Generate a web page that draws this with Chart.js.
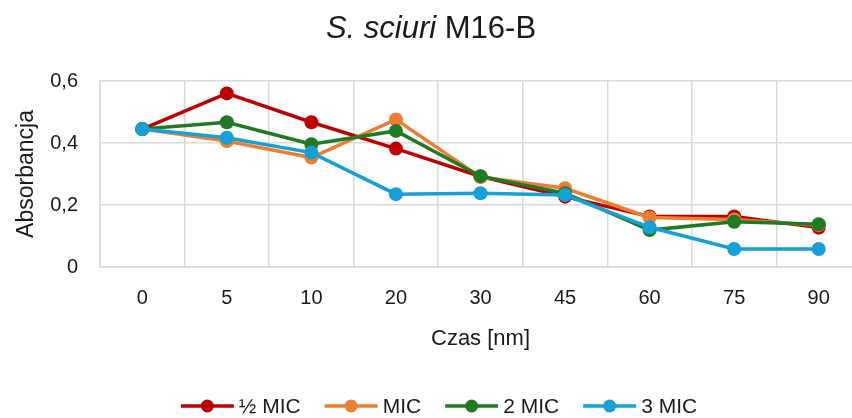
<!DOCTYPE html>
<html>
<head>
<meta charset="utf-8">
<script src="https://cdn.jsdelivr.net/npm/chart.js@4.4.1/dist/chart.umd.min.js"></script>
<style>
  html, body { margin: 0; padding: 0; background: #fff; overflow: hidden; }
  #wrap { width: 870px; height: 418px; }
</style>
</head>
<body>
<div id="wrap"><canvas id="chart" width="870" height="418"></canvas></div>
<script>
// czas pomiaru i absorbancja dla kolejnych stężeń
const czas = ['0', '5', '10', '20', '30', '45', '60', '75', '90'];
const polowaMic = [0.445, 0.560, 0.467, 0.382, 0.292, 0.227, 0.163, 0.163, 0.127];
const mic = [0.445, 0.406, 0.353, 0.476, 0.290, 0.254, 0.160, 0.153, 0.135];
const dwaMic = [0.445, 0.467, 0.396, 0.439, 0.293, 0.238, 0.119, 0.146, 0.138];
const trzyMic = [0.445, 0.417, 0.369, 0.235, 0.238, 0.232, 0.128, 0.058, 0.058];
const yTicks = [0, 0.2, 0.4, 0.6];

const FONT = '"Liberation Sans", Arial, sans-serif';
const TXT = '#1a1a1a';
const GRID = '#d9d9d9';

function seria(label, data, color, order) {
  return {
    label, data, order,
    borderColor: color,
    backgroundColor: color,
    borderWidth: 3.5,
    pointRadius: 7,
    pointHoverRadius: 7,
    pointBorderWidth: 0,
    tension: 0
  };
}

// tytuł z kursywą w nazwie gatunku
const titlePlugin = {
  id: 'mixedTitle',
  afterDraw(chart) {
    const ctx = chart.ctx;
    const parts = [
      { text: 'S. sciuri', font: 'italic 31px ' + FONT },
      { text: ' M16-B', font: '31px ' + FONT }
    ];
    ctx.save();
    let total = 0;
    parts.forEach(p => { ctx.font = p.font; p.w = ctx.measureText(p.text).width; total += p.w; });
    let x = 431 - total / 2;
    ctx.fillStyle = TXT;
    ctx.textBaseline = 'alphabetic';
    ctx.textAlign = 'left';
    parts.forEach(p => { ctx.font = p.font; ctx.fillText(p.text, x, 38); x += p.w; });
    ctx.restore();
  }
};

// legenda w stylu linia + znacznik
const legendPlugin = {
  id: 'lineLegend',
  afterDraw(chart) {
    const ctx = chart.ctx;
    const items = chart.data.datasets.map(d => ({ label: d.label, color: d.borderColor }));
    const lineLen = 53, gap = 5, spacing = 24;
    ctx.save();
    ctx.font = '21px ' + FONT;
    let total = 0;
    items.forEach((it, i) => {
      it.w = ctx.measureText(it.label).width;
      total += lineLen + gap + it.w + (i < items.length - 1 ? spacing : 0);
    });
    let x = 439 - total / 2;
    const y = 406;
    items.forEach(it => {
      ctx.strokeStyle = it.color;
      ctx.lineWidth = 3.5;
      ctx.beginPath();
      ctx.moveTo(x, y);
      ctx.lineTo(x + lineLen, y);
      ctx.stroke();
      ctx.fillStyle = it.color;
      ctx.beginPath();
      ctx.arc(x + lineLen / 2, y, 6.5, 0, Math.PI * 2);
      ctx.fill();
      ctx.fillStyle = TXT;
      ctx.textBaseline = 'middle';
      ctx.fillText(it.label, x + lineLen + gap, y + 1);
      x += lineLen + gap + it.w + spacing;
    });
    ctx.restore();
  }
};

new Chart(document.getElementById('chart'), {
  type: 'line',
  data: {
    labels: czas,
    datasets: [
      seria('½ MIC', polowaMic, '#c00000', 3),
      seria('MIC', mic, '#ed7d31', 2),
      seria('2 MIC', dwaMic, '#1f7a24', 1),
      seria('3 MIC', trzyMic, '#15a0d8', 0)
    ]
  },
  options: {
    responsive: false,
    animation: false,
    layout: { padding: { top: 81, right: 9, left: 0, bottom: 0 } },
    plugins: {
      legend: { display: false },
      title: { display: false },
      tooltip: { enabled: false }
    },
    scales: {
      x: {
        offset: true,
        grid: { color: GRID, lineWidth: 1.5, offset: true, drawTicks: false },
        border: { color: GRID, width: 1.5 },
        ticks: { color: TXT, font: { family: FONT, size: 20 }, padding: 19, maxRotation: 0 },
        title: {
          display: true, text: 'Czas [nm]', color: TXT,
          font: { family: FONT, size: 22 }, padding: { top: 0, bottom: 66 }
        },
        afterFit(scale) { scale.height = 151; }
      },
      y: {
        min: 0, max: 0.6,
        afterBuildTicks(scale) { scale.ticks = yTicks.map(v => ({ value: v })); },
        grid: { color: GRID, lineWidth: 1.5, drawTicks: false },
        border: { color: GRID, width: 1.5 },
        ticks: {
          color: TXT, font: { family: FONT, size: 20 }, padding: 22,
          callback: v => v === 0 ? '0' : v.toFixed(1).replace('.', ',')
        },
        title: {
          display: true, text: 'Absorbancja', color: TXT,
          font: { family: FONT, size: 23 }, padding: { top: 13, bottom: 0 }
        },
        afterFit(scale) { scale.width = 100; }
      }
    }
  },
  plugins: [titlePlugin, legendPlugin]
});
</script>
</body>
</html>
